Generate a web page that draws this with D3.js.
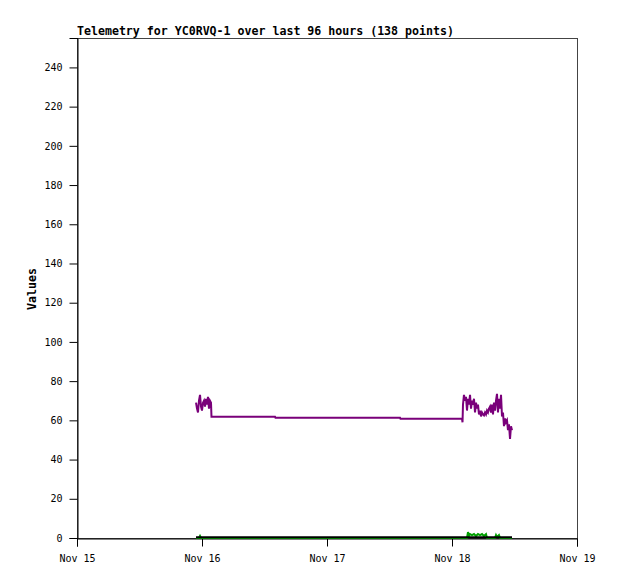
<!DOCTYPE html>
<html><head><meta charset="utf-8">
<script src="https://cdn.jsdelivr.net/npm/d3@7"></script>
<style>body{margin:0;background:#fff}</style>
</head><body>
<svg id="c" width="618" height="579"></svg>
<script>
const title = "Telemetry for YC0RVQ-1 over last 96 hours (138 points)";
const yLabel = "Values";
const xStart = "2023-11-15T00:00:00Z";
const xEnd = "2023-11-19T00:00:00Z";
const xTickLabels = ["Nov 15","Nov 16","Nov 17","Nov 18","Nov 19"];
const yTicks = [0,20,40,60,80,100,120,140,160,180,200,220,240];
const yMax = 255;

// hours after Nov 15 00:00
const purpleHours = [22.85,23.04,23.23,23.42,23.62,23.81,24.00,24.19,24.38,24.58,24.77,24.96,25.15,25.34,25.54,25.73,25.82,38.02,38.11,62.02,62.11,73.92,74.02,74.11,74.30,74.50,74.69,74.88,75.07,75.26,75.46,75.65,75.84,76.03,76.22,76.42,76.61,76.80,76.99,77.18,77.38,77.57,77.76,77.95,78.14,78.34,78.53,78.72,78.91,79.10,79.30,79.49,79.68,79.87,80.06,80.26,80.45,80.64,80.83,81.02,81.22,81.41,81.60,81.79,81.98,82.18,82.37,82.56,82.75,82.94,83.14,83.33,83.52];
const purpleValues = [69,66,64,70,73,67,65,69,70,67,71,68,72,66,70,69,61.8,61.8,61.3,61.3,60.8,60.8,59,68,73,70,72,65,71,68,73,66,70,68,71,64,69,66,68,63,65,62,64,63,62.5,64,63,65,64,66,67,64,68,63,69,65,70,73.5,64,71,66,73,62,64,57,61,59,60,55,58,50.5,57,55];

const greenHours = [22.85,23.42,23.62,23.81,74.88,75.07,75.26,75.46,75.84,76.22,76.61,76.99,77.38,77.76,78.14,78.53,78.72,80.26,80.45,80.64,81.02,81.22,83.52];
const greenValues = [0,0,1,0,0,3,1,2,1.5,2,1,2,1.5,2,1,2,0,0,1.5,0.5,1.5,0,0];

const blackHours = [22.85,83.52];
const blackValues = [0.4,0.4];

const svg = d3.select("#c");
const L=77,R=577,T=38,B=538;
const t0 = new Date(xStart), t1 = new Date(xEnd);
const toDate = h => new Date(t0.getTime()+h*3600e3);
const x = d3.scaleUtc().domain([t0,t1]).range([L,R]);
const y = d3.scaleLinear().domain([0,yMax]).range([B,T]);

// frame
svg.append("rect").attr("x",L+0.5).attr("y",T+0.5).attr("width",R-L).attr("height",B-T)
  .attr("fill","none").attr("stroke","#444").attr("stroke-width",1);

// title
svg.append("text").attr("x",L).attr("y",35).text(title)
  .attr("font-family","DejaVu Sans Mono").attr("font-weight","bold").attr("font-size","11.6px").attr("fill","#000");

// y label
svg.append("text").attr("transform","translate(36,289) rotate(-90)").attr("text-anchor","middle")
  .text(yLabel).attr("font-family","DejaVu Sans Mono").attr("font-weight","bold").attr("font-size","11.6px");

// axes
const yAxis = d3.axisLeft(y).tickValues(yTicks).tickSize(8).tickPadding(7);
const gy = svg.append("g").attr("transform",`translate(${L+0.5},0)`).call(yAxis);
const xTickDates = xTickLabels.map((d,i)=>toDate(i*24));
const xAxis = d3.axisBottom(x).tickValues(xTickDates).tickFormat((d,i)=>xTickLabels[i]).tickSize(8).tickPadding(8);
const gx = svg.append("g").attr("transform",`translate(0,${B+0.5})`).call(xAxis);
[gx,gy].forEach(g=>{
  g.selectAll("path.domain").attr("stroke","#000");
  g.selectAll(".tick line").attr("stroke","#000");
  g.selectAll("text").attr("font-family","DejaVu Sans Mono").attr("font-size","10px").attr("fill","#000");
});

const line = d3.line().x(d=>x(toDate(d[0]))).y(d=>y(d[1]));
svg.append("path").datum(greenHours.map((h,i)=>[h,greenValues[i]]))
  .attr("d",line).attr("fill","none").attr("stroke","#00a000").attr("stroke-width",2);
svg.append("path").datum(blackHours.map((h,i)=>[h,blackValues[i]]))
  .attr("d",line).attr("fill","none").attr("stroke","#000").attr("stroke-width",2);
svg.append("path").datum(purpleHours.map((h,i)=>[h,purpleValues[i]]))
  .attr("d",line).attr("fill","none").attr("stroke","#7a007a").attr("stroke-width",2);
</script>
</body></html>
